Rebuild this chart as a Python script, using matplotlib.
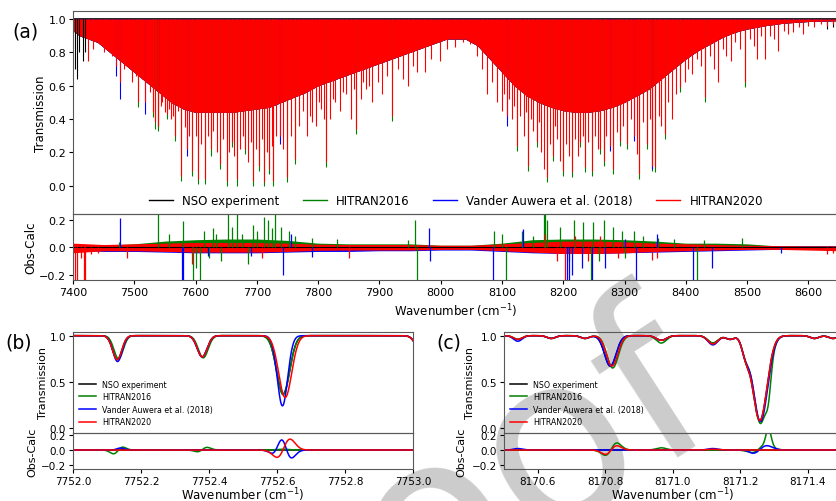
"""Transmission spectra: NSO experiment vs. HITRAN2016 / Vander Auwera et al. (2018) / HITRAN2020.

(a) overview 7400-8650 cm-1 with Obs-Calc residuals, (b) and (c) two zoomed windows.
"""

import numpy as np
import matplotlib
matplotlib.use("Agg")
from matplotlib import pyplot as plt

LABELS = ["NSO experiment", "HITRAN2016", "Vander Auwera et al. (2018)", "HITRAN2020"]
COLORS = ["black", "green", "blue", "red"]

# ---------------- panel (a): overview -------------------------------------------
# lower edge of the dense (unresolved) absorption band
env_wn = [7400, 7410, 7425, 7440, 7460, 7480, 7500, 7520, 7540, 7560, 7580, 7600, 7620,
          7640, 7660, 7680, 7700, 7720, 7740, 7760, 7780, 7800, 7830, 7860, 7890, 7920,
          7950, 7980, 8010, 8040, 8060, 8080, 8100, 8120, 8140, 8160, 8180, 8200, 8220,
          8240, 8260, 8280, 8300, 8320, 8340, 8360, 8380, 8400, 8420, 8440, 8460, 8480,
          8500, 8530, 8560, 8600, 8650]
env_t = [0.93, 0.90, 0.88, 0.86, 0.80, 0.74, 0.68, 0.62, 0.56, 0.50, 0.46, 0.44, 0.44,
         0.44, 0.44, 0.45, 0.46, 0.47, 0.50, 0.53, 0.56, 0.60, 0.64, 0.68, 0.72, 0.76,
         0.80, 0.84, 0.88, 0.88, 0.84, 0.76, 0.68, 0.60, 0.54, 0.50, 0.47, 0.45, 0.44,
         0.44, 0.45, 0.47, 0.50, 0.54, 0.58, 0.64, 0.70, 0.76, 0.81, 0.85, 0.89, 0.92,
         0.94, 0.96, 0.975, 0.985, 0.99]

# resolved lines (HITRAN2020 minimum transmission)
line_wn = [7425, 7432, 7444, 7450, 7455, 7463, 7470, 7477, 7484, 7490, 7497, 7502, 7506,
           7512, 7518, 7525, 7530, 7534, 7539, 7543, 7546, 7550, 7553, 7557, 7560, 7564,
           7567, 7572, 7577, 7582, 7586, 7590, 7595, 7600, 7604, 7609, 7615, 7621, 7625,
           7629, 7635, 7640, 7645, 7651, 7655, 7659, 7663, 7668, 7672, 7677, 7681, 7686,
           7690, 7694, 7699, 7704, 7708, 7711, 7716, 7720, 7724, 7727, 7732, 7737, 7742,
           7749, 7755, 7762, 7768, 7775, 7782, 7786, 7790, 7797, 7801, 7805, 7809, 7813,
           7820, 7824, 7828, 7836, 7841, 7845, 7853, 7858, 7862, 7870, 7874, 7878, 7883,
           7888, 7897, 7905, 7913, 7921, 7930, 7938, 7947, 7955, 7962, 7975, 7985, 7999,
           8010, 8024, 8036, 8048, 8060, 8068, 8076, 8084, 8092, 8100, 8104, 8108, 8112,
           8116, 8120, 8124, 8130, 8136, 8140, 8143, 8147, 8150, 8157, 8160, 8164, 8169,
           8173, 8178, 8184, 8187, 8190, 8195, 8200, 8205, 8210, 8214, 8220, 8224, 8228,
           8232, 8236, 8241, 8247, 8252, 8256, 8260, 8266, 8270, 8276, 8282, 8288, 8293,
           8298, 8304, 8310, 8315, 8320, 8323, 8330, 8337, 8341, 8345, 8350, 8356, 8360,
           8366, 8371, 8377, 8384, 8391, 8398, 8404, 8410, 8418, 8425, 8432, 8440, 8446,
           8453, 8460, 8466, 8473, 8480, 8488, 8497, 8505, 8511, 8516, 8523, 8530, 8538,
           8544, 8551, 8560, 8567, 8575, 8584, 8592, 8600, 8610, 8620, 8630, 8640]
line_t = [0.75, 0.82, 0.85, 0.80, 0.82, 0.78, 0.72, 0.62, 0.70, 0.78, 0.62, 0.66, 0.50,
          0.64, 0.50, 0.56, 0.44, 0.38, 0.36, 0.48, 0.50, 0.44, 0.43, 0.46, 0.40, 0.42,
          0.30, 0.45, 0.06, 0.35, 0.22, 0.30, 0.09, 0.30, 0.04, 0.25, 0.04, 0.30, 0.22,
          0.33, 0.20, 0.13, 0.28, 0.03, 0.20, 0.26, 0.18, 0.04, 0.22, 0.30, 0.22, 0.14,
          0.26, 0.03, 0.22, 0.12, 0.28, 0.02, 0.20, 0.10, 0.24, 0.03, 0.30, 0.30, 0.22,
          0.05, 0.30, 0.16, 0.36, 0.45, 0.30, 0.42, 0.38, 0.36, 0.50, 0.46, 0.40, 0.14,
          0.40, 0.52, 0.50, 0.45, 0.56, 0.55, 0.40, 0.58, 0.34, 0.52, 0.62, 0.58, 0.60,
          0.50, 0.62, 0.55, 0.66, 0.42, 0.70, 0.64, 0.60, 0.72, 0.68, 0.68, 0.76, 0.75,
          0.82, 0.83, 0.86, 0.85, 0.78, 0.70, 0.55, 0.62, 0.50, 0.45, 0.55, 0.42, 0.52,
          0.40, 0.48, 0.24, 0.42, 0.30, 0.44, 0.12, 0.40, 0.33, 0.26, 0.38, 0.20, 0.10,
          0.05, 0.25, 0.18, 0.36, 0.28, 0.15, 0.09, 0.25, 0.18, 0.08, 0.28, 0.18, 0.26,
          0.30, 0.11, 0.26, 0.09, 0.30, 0.22, 0.22, 0.15, 0.30, 0.24, 0.10, 0.32, 0.27,
          0.36, 0.25, 0.40, 0.30, 0.19, 0.07, 0.38, 0.25, 0.40, 0.12, 0.11, 0.42, 0.36,
          0.31, 0.50, 0.40, 0.55, 0.59, 0.62, 0.70, 0.67, 0.76, 0.72, 0.53, 0.78, 0.70,
          0.62, 0.82, 0.78, 0.75, 0.86, 0.82, 0.62, 0.88, 0.84, 0.76, 0.90, 0.76, 0.90,
          0.88, 0.81, 0.93, 0.91, 0.92, 0.95, 0.91, 0.96, 0.95, 0.97, 0.96, 0.97]

# lines where the other data sets go deeper than HITRAN2020
h16_wn = [7506, 7530, 7534, 7539, 7553, 7567, 7577, 7595, 7604, 7615, 7625, 7640, 7651,
          7659, 7668, 7681, 7694, 7704, 7711, 7720, 7727, 7749, 7762, 7813, 7862, 7921,
          8124, 8143, 8157, 8173, 8184, 8200, 8214, 8228, 8236, 8247, 8260, 8266, 8282,
          8293, 8304, 8323, 8337, 8345, 8350, 8366, 8391, 8432, 8497]
h16_t = [0.47, 0.41, 0.34, 0.33, 0.40, 0.27, 0.03, 0.06, 0.01, 0.01, 0.18, 0.10, 0.0,
         0.23, 0.0, 0.19, 0.0, 0.09, 0.0, 0.07, 0.0, 0.02, 0.13, 0.11, 0.31, 0.39,
         0.21, 0.09, 0.23, 0.02, 0.15, 0.06, 0.05, 0.23, 0.08, 0.06, 0.19, 0.12, 0.07,
         0.24, 0.22, 0.04, 0.22, 0.09, 0.08, 0.28, 0.56, 0.50, 0.59]
va_wn = [7470, 7477, 7518, 7586, 7737, 8108, 8276, 8315, 8345]
va_t = [0.66, 0.52, 0.43, 0.18, 0.25, 0.36, 0.21, 0.27, 0.10]
nso_wn = [7404, 7406, 7410, 7416, 7420, 7539, 8630, 8640, 8645]
nso_t = [0.70, 0.64, 0.80, 0.75, 0.80, 0.35, 0.94, 0.95, 0.96]

# Obs-Calc noise bands
res_wn = [7400, 7450, 7500, 7550, 7600, 7650, 7700, 7750, 7800, 7850, 7900, 7950, 8000,
          8050, 8100, 8150, 8200, 8250, 8300, 8350, 8400, 8450, 8500, 8550, 8600, 8650]
h16_hi = [0.01, 0.015, 0.025, 0.045, 0.055, 0.06, 0.06, 0.05, 0.03, 0.025, 0.025, 0.025,
          0.015, 0.015, 0.03, 0.055, 0.06, 0.06, 0.055, 0.045, 0.03, 0.03, 0.025, 0.01,
          0.01, 0.01]
h16_lo = [-0.01, -0.01, -0.015, -0.02, -0.03, -0.025, -0.025, -0.02, -0.015, -0.015,
          -0.015, -0.015, -0.01, -0.01, -0.02, -0.025, -0.03, -0.03, -0.025, -0.02,
          -0.015, -0.015, -0.01, -0.01, -0.01, -0.01]
va_hi = [0.015, 0.02, 0.02, 0.02, 0.02, 0.02, 0.02, 0.02, 0.015, 0.015, 0.015, 0.015,
         0.01, 0.01, 0.015, 0.02, 0.025, 0.025, 0.02, 0.02, 0.015, 0.015, 0.01, 0.01,
         0.01, 0.01]
va_lo = [-0.02, -0.03, -0.03, -0.035, -0.04, -0.04, -0.04, -0.035, -0.03, -0.03, -0.025,
         -0.025, -0.02, -0.02, -0.03, -0.04, -0.045, -0.045, -0.04, -0.035, -0.03,
         -0.025, -0.02, -0.015, -0.015, -0.015]
h20_hi = [0.03, 0.02, 0.025, 0.03, 0.035, 0.035, 0.035, 0.03, 0.022, 0.02, 0.02, 0.02,
          0.015, 0.015, 0.025, 0.035, 0.045, 0.045, 0.04, 0.03, 0.025, 0.02, 0.015, 0.012,
          0.01, 0.01]
h20_lo = [-0.04, -0.025, -0.025, -0.03, -0.035, -0.035, -0.035, -0.03, -0.022, -0.02,
          -0.02, -0.02, -0.015, -0.015, -0.025, -0.035, -0.045, -0.045, -0.04, -0.03,
          -0.025, -0.02, -0.015, -0.015, -0.02, -0.025]

# Obs-Calc single spikes
h16_sp_wn = [7475, 7538, 7556, 7579, 7596, 7600, 7607, 7613, 7622, 7629, 7634, 7642, 7653,
             7660, 7668, 7675, 7686, 7694, 7700, 7711, 7718, 7725, 7730, 7740, 7752, 7762,
             7790, 7830, 7947, 7958, 7961, 8087, 8100, 8107, 8133, 8150, 8168, 8171, 8174,
             8195, 8210, 8217, 8233, 8246, 8249, 8258, 8266, 8282, 8296, 8300, 8315, 8330,
             8355, 8380, 8418, 8430, 8492]
h16_sp_v = [0.04, 0.25, 0.10, 0.19, -0.25, -0.15, -0.25, 0.12, -0.08, 0.14, 0.10, -0.10,
            0.25, 0.15, 0.25, 0.10, -0.12, 0.16, 0.12, 0.22, 0.20, 0.14, 0.25, 0.15, 0.12,
            0.08, 0.07, 0.06, 0.05, 0.20, -0.25, 0.12, 0.10, -0.25, 0.12, 0.08, 0.25, 0.25,
            0.20, 0.15, -0.10, 0.20, 0.18, -0.25, 0.18, -0.10, 0.20, 0.15, 0.12, -0.08,
            0.12, 0.08, 0.07, 0.06, -0.25, 0.05, 0.07]
va_sp_wn = [7476, 7578, 7580, 7620, 7690, 7742, 7756, 7790, 7981, 7983, 8085, 8135, 8206,
            8210, 8214, 8230, 8247, 8268, 8300, 8318, 8353, 8411, 8442, 8555]
va_sp_v = [0.21, -0.25, -0.25, -0.06, -0.06, -0.20, 0.10, -0.07, 0.14, -0.10, -0.25, 0.13,
           -0.25, -0.25, -0.20, -0.15, -0.25, -0.15, 0.06, -0.25, 0.10, -0.25, -0.15, -0.04]
h20_sp_wn = [7403, 7407, 7413, 7418, 7420, 7430, 7440, 7488, 7595, 7709, 7850, 8170, 8190,
             8203, 8220, 8240, 8260, 8290, 8345, 8353, 8631, 8640, 8647]
h20_sp_v = [-0.25, -0.25, -0.08, -0.25, -0.25, -0.05, -0.04, -0.08, -0.12, -0.08, -0.08,
            0.10, -0.10, -0.25, 0.08, -0.10, 0.08, -0.08, -0.09, -0.08, -0.05, -0.04, -0.06]

# ---------------- panel (b): 7752-7753 cm-1 (centre, depth, fwhm) --------------
b_nso_c = [7752.130, 7752.380, 7752.618, 7753.030]
b_nso_d = [0.26, 0.23, 0.63, 0.25]
b_nso_w = [0.032, 0.034, 0.045, 0.040]
b_h16_c = [7752.134, 7752.383, 7752.618, 7753.030]
b_h16_d = [0.25, 0.24, 0.64, 0.25]
b_h16_w = [0.032, 0.034, 0.045, 0.040]
b_va_c = [7752.131, 7752.380, 7752.616, 7753.030]
b_va_d = [0.28, 0.23, 0.76, 0.25]
b_va_w = [0.032, 0.034, 0.036, 0.040]
b_h20_c = [7752.130, 7752.380, 7752.624, 7753.030]
b_h20_d = [0.26, 0.23, 0.67, 0.25]
b_h20_w = [0.032, 0.034, 0.045, 0.040]

# ---------------- panel (c): 8170.5-8171.5 cm-1 --------------------------------
c_nso_c = [8170.541, 8170.640, 8170.740, 8170.815, 8170.966, 8171.119, 8171.170, 8171.217,
           8171.258, 8171.420, 8171.475]
c_nso_d = [0.04, 0.03, 0.03, 0.33, 0.05, 0.08, 0.04, 0.19, 0.92, 0.03, 0.03]
c_nso_w = [0.030, 0.030, 0.030, 0.040, 0.035, 0.035, 0.030, 0.028, 0.050, 0.030, 0.030]
c_h16_c = [8170.541, 8170.640, 8170.740, 8170.822, 8170.966, 8171.119, 8171.170, 8171.217,
           8171.260, 8171.280, 8171.420, 8171.475]
c_h16_d = [0.04, 0.03, 0.03, 0.35, 0.08, 0.08, 0.04, 0.19, 0.95, 0.50, 0.03, 0.03]
c_h16_w = [0.030, 0.030, 0.030, 0.040, 0.035, 0.035, 0.030, 0.028, 0.050, 0.020, 0.030,
           0.030]
c_va_c = [8170.541, 8170.640, 8170.740, 8170.815, 8170.966, 8171.119, 8171.170, 8171.217,
          8171.260, 8171.420, 8171.475]
c_va_d = [0.06, 0.03, 0.03, 0.33, 0.05, 0.10, 0.04, 0.20, 0.93, 0.03, 0.03]
c_va_w = c_nso_w
c_h20_c = [8170.541, 8170.640, 8170.740, 8170.820, 8170.966, 8171.119, 8171.170, 8171.217,
           8171.258, 8171.420, 8171.475]
c_h20_d = [0.04, 0.03, 0.03, 0.33, 0.05, 0.09, 0.04, 0.19, 0.92, 0.03, 0.03]
c_h20_w = c_nso_w

W, H = 837, 502


def px_axes(fig, x0, x1, y0, y1):
    """Axes from pixel box (y measured from the top)."""
    ax = fig.add_axes([x0 / W, 1 - y1 / H, (x1 - x0) / W, (y1 - y0) / H])
    ax.patch.set_alpha(0)
    return ax


def transmission(x, centers, depths, fwhm):
    t = np.ones_like(x)
    for c, d, w in zip(centers, depths, fwhm):
        s = w / 2.3548
        t *= 1 - d * np.exp(-0.5 * ((x - c) / s) ** 2)
    return t


def style_pair(ax_t, ax_r, tick_fs, label_fs, lab_t, lab_r):
    for ax in (ax_t, ax_r):
        ax.tick_params(labelsize=tick_fs, length=3, width=0.8, pad=2)
        for sp in ax.spines.values():
            sp.set_color("0.35")
    ax_t.tick_params(axis="x", bottom=False, labelbottom=False)
    ax_t.set_ylabel("Transmission", fontsize=label_fs)
    ax_r.set_ylabel("Obs-Calc", fontsize=label_fs)
    ax_t.yaxis.set_label_coords(lab_t, 0.5)
    ax_r.yaxis.set_label_coords(lab_r, 0.5)
    ax_r.set_yticks([-0.2, 0.0, 0.2])


def draw_overview(fig):
    ax_t = px_axes(fig, 73, 839, 12, 214.7)
    ax_r = px_axes(fig, 73, 839, 214.7, 281)
    # HITRAN2020 is drawn last and hides the shared lines of the other sets,
    # so those only need the lines where they differ
    extra = [(nso_wn, nso_t), (h16_wn, h16_t), (va_wn, va_t), (line_wn, line_t)]
    tops = [1.008, 1.0, 1.0, 1.0]
    for color, label, (ew, et), top in zip(COLORS, LABELS, extra, tops):
        ax_t.fill_between(env_wn, env_t, top, color=color, lw=0)
        ax_t.vlines(ew, et, 1.0, color=color, lw=0.8)
        ax_t.plot([], [], color=color, lw=1.0, label=label)
    ax_t.set_xlim(7400, 8650)
    ax_t.set_ylim(-0.168, 1.048)
    ax_t.set_yticks(np.arange(0, 1.01, 0.2))
    ax_t.legend(loc="lower center", ncol=4, frameon=False, fontsize=8.5,
                bbox_to_anchor=(0.5, -0.02), handlelength=2.0, columnspacing=2.0)

    ax_r.axhline(0, color="black", lw=0.8)
    bands = [(h16_lo, h16_hi, h16_sp_wn, h16_sp_v, "green"),
             (va_lo, va_hi, va_sp_wn, va_sp_v, "blue"),
             (h20_lo, h20_hi, h20_sp_wn, h20_sp_v, "red")]
    for lo, hi, sw, sv, color in bands:
        ax_r.fill_between(res_wn, lo, hi, color=color, lw=0)
        ax_r.vlines(sw, 0, sv, color=color, lw=0.9)
    ax_r.set_xlim(7400, 8650)
    ax_r.set_ylim(-0.237, 0.2435)
    ax_r.set_xticks(np.arange(7400, 8601, 100))
    ax_r.set_xlabel("Wavenumber (cm$^{-1}$)", fontsize=8.5)
    ax_r.xaxis.set_label_coords(0.5, -0.33)
    style_pair(ax_t, ax_r, 8, 8.5, -0.034, -0.047)


def draw_zoom(fig, x0, x1, xlim, xticks, params, lab_t, lab_r):
    ax_t = px_axes(fig, x0, x1, 332.7, 433.7)
    ax_r = px_axes(fig, x0, x1, 433.7, 470)
    x = np.linspace(xlim[0], xlim[1], 2000)
    curves = [transmission(x, *p) for p in params]
    for t, color, label in zip(curves, COLORS, LABELS):
        ax_t.plot(x, t, color=color, lw=1.1, label=label)
    for t, color in zip(curves, COLORS):
        ax_r.plot(x, curves[0] - t, color=color, lw=1.1)
    for ax in (ax_t, ax_r):
        ax.set_xlim(*xlim)
    ax_t.set_ylim(-0.051, 1.043)
    ax_t.set_yticks([0.0, 0.5, 1.0])
    ax_r.set_ylim(-0.259, 0.236)
    ax_r.set_xticks(xticks)
    ax_r.set_xticklabels([f"{v:.1f}" for v in xticks])
    ax_r.set_xlabel("Wavenumber (cm$^{-1}$)", fontsize=8.5)
    ax_r.xaxis.set_label_coords(0.5, -0.44)
    ax_t.legend(loc="lower left", frameon=False, fontsize=5.7, handlelength=2.1,
                borderaxespad=0.4, labelspacing=0.45)
    style_pair(ax_t, ax_r, 7.5, 8, lab_t, lab_r)


fig = plt.figure(figsize=(W / 100, H / 100), dpi=100)

fig.text(435 / W, 1 - 522 / H, "Proof", rotation=33, fontsize=170, color="#cccccc",
         ha="center", va="center", rotation_mode="anchor", zorder=-5)

draw_overview(fig)
draw_zoom(fig, 73, 413, (7752.0, 7753.0), [7752.0, 7752.2, 7752.4, 7752.6, 7752.8, 7753.0],
          [(b_nso_c, b_nso_d, b_nso_w), (b_h16_c, b_h16_d, b_h16_w),
           (b_va_c, b_va_d, b_va_w), (b_h20_c, b_h20_d, b_h20_w)], -0.075, -0.105)
draw_zoom(fig, 504, 841.5, (8170.5, 8171.5), [8170.6, 8170.8, 8171.0, 8171.2, 8171.4],
          [(c_nso_c, c_nso_d, c_nso_w), (c_h16_c, c_h16_d, c_h16_w),
           (c_va_c, c_va_d, c_va_w), (c_h20_c, c_h20_d, c_h20_w)], -0.085, -0.11)

fig.text(25.6 / W, 1 - 32 / H, "(a)", fontsize=13.5, ha="center", va="center")
fig.text(19 / W, 1 - 343.5 / H, "(b)", fontsize=13.5, ha="center", va="center")
fig.text(449 / W, 1 - 343.5 / H, "(c)", fontsize=13.5, ha="center", va="center")

fig.savefig("out.png", dpi=100)
